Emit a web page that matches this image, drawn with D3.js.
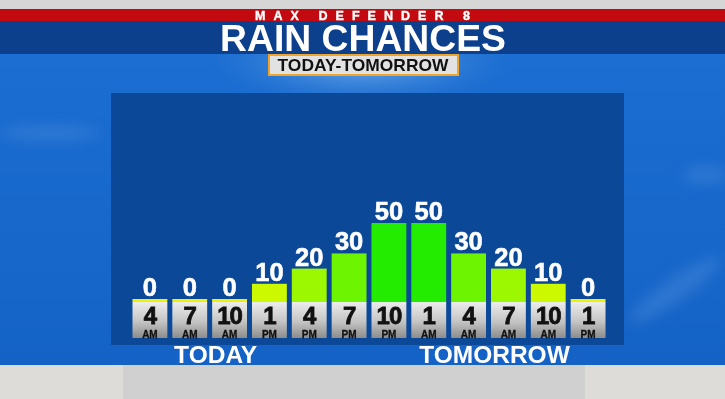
<!DOCTYPE html>
<html>
<head>
<meta charset="utf-8">
<script src="https://cdn.jsdelivr.net/npm/d3@7"></script>
<style>
  html, body { margin: 0; padding: 0; background: #d9d8d5; }
  svg { display: block; font-family: "Liberation Sans", Arial, sans-serif; font-weight: bold; }
</style>
</head>
<body>
<div id="chart"></div>
<script>
// chart data
var hours = ["4", "7", "10", "1", "4", "7", "10", "1", "4", "7", "10", "1"];
var periods = ["AM", "AM", "AM", "PM", "PM", "PM", "PM", "AM", "AM", "AM", "AM", "PM"];
var chances = [0, 0, 0, 10, 20, 30, 50, 50, 30, 20, 10, 0];
var dayLabels = ["TODAY", "TOMORROW"];
var dayLabelSlots = [1.65, 8.65]; // between which bars each day label sits

var svgWidth = 725;
var svgHeight = 399;

var svg = d3.select("#chart")
    .append("svg")
    .attr("width", svgWidth)
    .attr("height", svgHeight);

var defs = svg.append("defs");

// sky gradient
var sky = defs.append("linearGradient").attr("id", "sky")
    .attr("x1", 0).attr("y1", 0).attr("x2", 0).attr("y2", 1);
sky.append("stop").attr("offset", "0%").attr("stop-color", "#1c6ed2");
sky.append("stop").attr("offset", "100%").attr("stop-color", "#1462c6");

var glow = defs.append("radialGradient").attr("id", "glow")
    .attr("cx", 0.5).attr("cy", 0.5).attr("r", 0.5);
glow.append("stop").attr("offset", "0%").attr("stop-color", "#9cc8f4").attr("stop-opacity", 0.75);
glow.append("stop").attr("offset", "100%").attr("stop-color", "#3a86dc").attr("stop-opacity", 0);

var box = defs.append("linearGradient").attr("id", "box")
    .attr("x1", 0).attr("y1", 0).attr("x2", 0).attr("y2", 1);
box.append("stop").attr("offset", "0%").attr("stop-color", "#ececec");
box.append("stop").attr("offset", "55%").attr("stop-color", "#c4c4c4");
box.append("stop").attr("offset", "100%").attr("stop-color", "#8c8c8c");

defs.append("filter").attr("id", "blur")
    .append("feGaussianBlur").attr("stdDeviation", 7);

// backgrounds
svg.append("rect").attr("x", 0).attr("y", 0).attr("width", svgWidth).attr("height", 9).attr("fill", "#d6d6d6");
svg.append("rect").attr("x", 0).attr("y", 54).attr("width", svgWidth).attr("height", 311).attr("fill", "url(#sky)");
svg.append("ellipse").attr("cx", 362).attr("cy", 62).attr("rx", 150).attr("ry", 45).attr("fill", "url(#glow)");

// faint clouds
var clouds = svg.append("g").attr("filter", "url(#blur)").attr("fill", "#5c98e0").attr("opacity", 0.35);
clouds.append("ellipse").attr("cx", 675).attr("cy", 290).attr("rx", 55).attr("ry", 12).attr("transform", "rotate(-35 675 290)");
clouds.append("ellipse").attr("cx", 705).attr("cy", 175).attr("rx", 22).attr("ry", 8);
clouds.append("ellipse").attr("cx", 50).attr("cy", 133).attr("rx", 50).attr("ry", 7);

// bottom gray strip
svg.append("rect").attr("x", 0).attr("y", 365).attr("width", svgWidth).attr("height", 34).attr("fill", "#dedcd8");
svg.append("rect").attr("x", 123).attr("y", 365).attr("width", 462).attr("height", 34).attr("fill", "#d0d0d1");

// header bands
svg.append("rect").attr("x", 0).attr("y", 9).attr("width", svgWidth).attr("height", 12).attr("fill", "#c20a10");
svg.append("rect").attr("x", 0).attr("y", 21).attr("width", svgWidth).attr("height", 33).attr("fill", "#0c3f8c");

svg.append("text")
    .attr("x", 255).attr("y", 20)
    .attr("textLength", 215).attr("lengthAdjust", "spacing")
    .attr("font-size", 12.5).attr("fill", "white")
    .attr("stroke", "white").attr("stroke-width", 0.4)
    .text("MAX DEFENDER 8");

svg.append("text")
    .attr("x", 220).attr("y", 51)
    .attr("textLength", 286).attr("lengthAdjust", "spacingAndGlyphs")
    .attr("font-size", 37).attr("fill", "white")
    .text("RAIN CHANCES");

svg.append("rect")
    .attr("x", 269).attr("y", 55).attr("width", 189).attr("height", 20)
    .attr("fill", "#e2e2e2").attr("stroke", "#f0a428").attr("stroke-width", 2);
svg.append("text")
    .attr("x", 363).attr("y", 71)
    .attr("text-anchor", "middle")
    .attr("textLength", 171).attr("lengthAdjust", "spacingAndGlyphs")
    .attr("font-size", 17).attr("fill", "#111")
    .text("TODAY-TOMORROW");

// chart panel
svg.append("rect").attr("x", 111).attr("y", 93).attr("width", 513).attr("height", 252).attr("fill", "#0c4898");

// scales
var baseY = 302;
var xScale = d3.scaleBand()
    .domain(d3.range(chances.length))
    .range([130, 608])
    .paddingInner(0.125)
    .paddingOuter(0.0625);

var yScale = d3.scaleLinear()
    .domain([0, 50])
    .range([299, 223]);

var colorScale = d3.scaleOrdinal()
    .domain([0, 10, 20, 30, 50])
    .range(["#eef200", "#ccf800", "#9cf800", "#6cf400", "#24ec00"]);

var chartGroup = svg.append("g");

// bars
chartGroup.selectAll(".bar")
    .data(chances)
    .enter()
    .append("rect")
    .attr("class", "bar")
    .attr("x", (d, i) => xScale(i))
    .attr("y", d => yScale(d))
    .attr("width", xScale.bandwidth())
    .attr("height", d => baseY - yScale(d))
    .attr("fill", d => colorScale(d));

// value labels
chartGroup.selectAll(".value")
    .data(chances)
    .enter()
    .append("text")
    .attr("class", "value")
    .attr("x", (d, i) => xScale(i) + xScale.bandwidth() / 2)
    .attr("y", d => yScale(d) - 3)
    .attr("text-anchor", "middle")
    .attr("font-size", 25.5)
    .attr("fill", "white")
    .attr("stroke", "white").attr("stroke-width", 0.6)
    .text(d => d);

// time boxes
chartGroup.selectAll(".tbox")
    .data(hours)
    .enter()
    .append("rect")
    .attr("class", "tbox")
    .attr("x", (d, i) => xScale(i))
    .attr("y", baseY)
    .attr("width", xScale.bandwidth())
    .attr("height", 36)
    .attr("fill", "url(#box)");

chartGroup.selectAll(".hour")
    .data(hours)
    .enter()
    .append("text")
    .attr("class", "hour")
    .attr("x", (d, i) => xScale(i) + xScale.bandwidth() / 2)
    .attr("y", 323.5)
    .attr("text-anchor", "middle")
    .attr("font-size", 24)
    .attr("fill", "#111")
    .attr("stroke", "#111").attr("stroke-width", 0.8)
    .attr("letter-spacing", -1)
    .text(d => d);

chartGroup.selectAll(".period")
    .data(periods)
    .enter()
    .append("text")
    .attr("class", "period")
    .attr("x", (d, i) => xScale(i) + xScale.bandwidth() / 2)
    .attr("y", 337.5)
    .attr("text-anchor", "middle")
    .attr("font-size", 10)
    .attr("fill", "#111")
    .attr("stroke", "#111").attr("stroke-width", 0.3)
    .text(d => d);

// day labels
chartGroup.selectAll(".day")
    .data(dayLabels)
    .enter()
    .append("text")
    .attr("class", "day")
    .attr("x", (d, i) => xScale(0) + xScale.step() * dayLabelSlots[i] + xScale.bandwidth() / 2)
    .attr("y", 363)
    .attr("text-anchor", "middle")
    .attr("font-size", 24.5)
    .attr("fill", "white")
    .text(d => d);
</script>
</body>
</html>
